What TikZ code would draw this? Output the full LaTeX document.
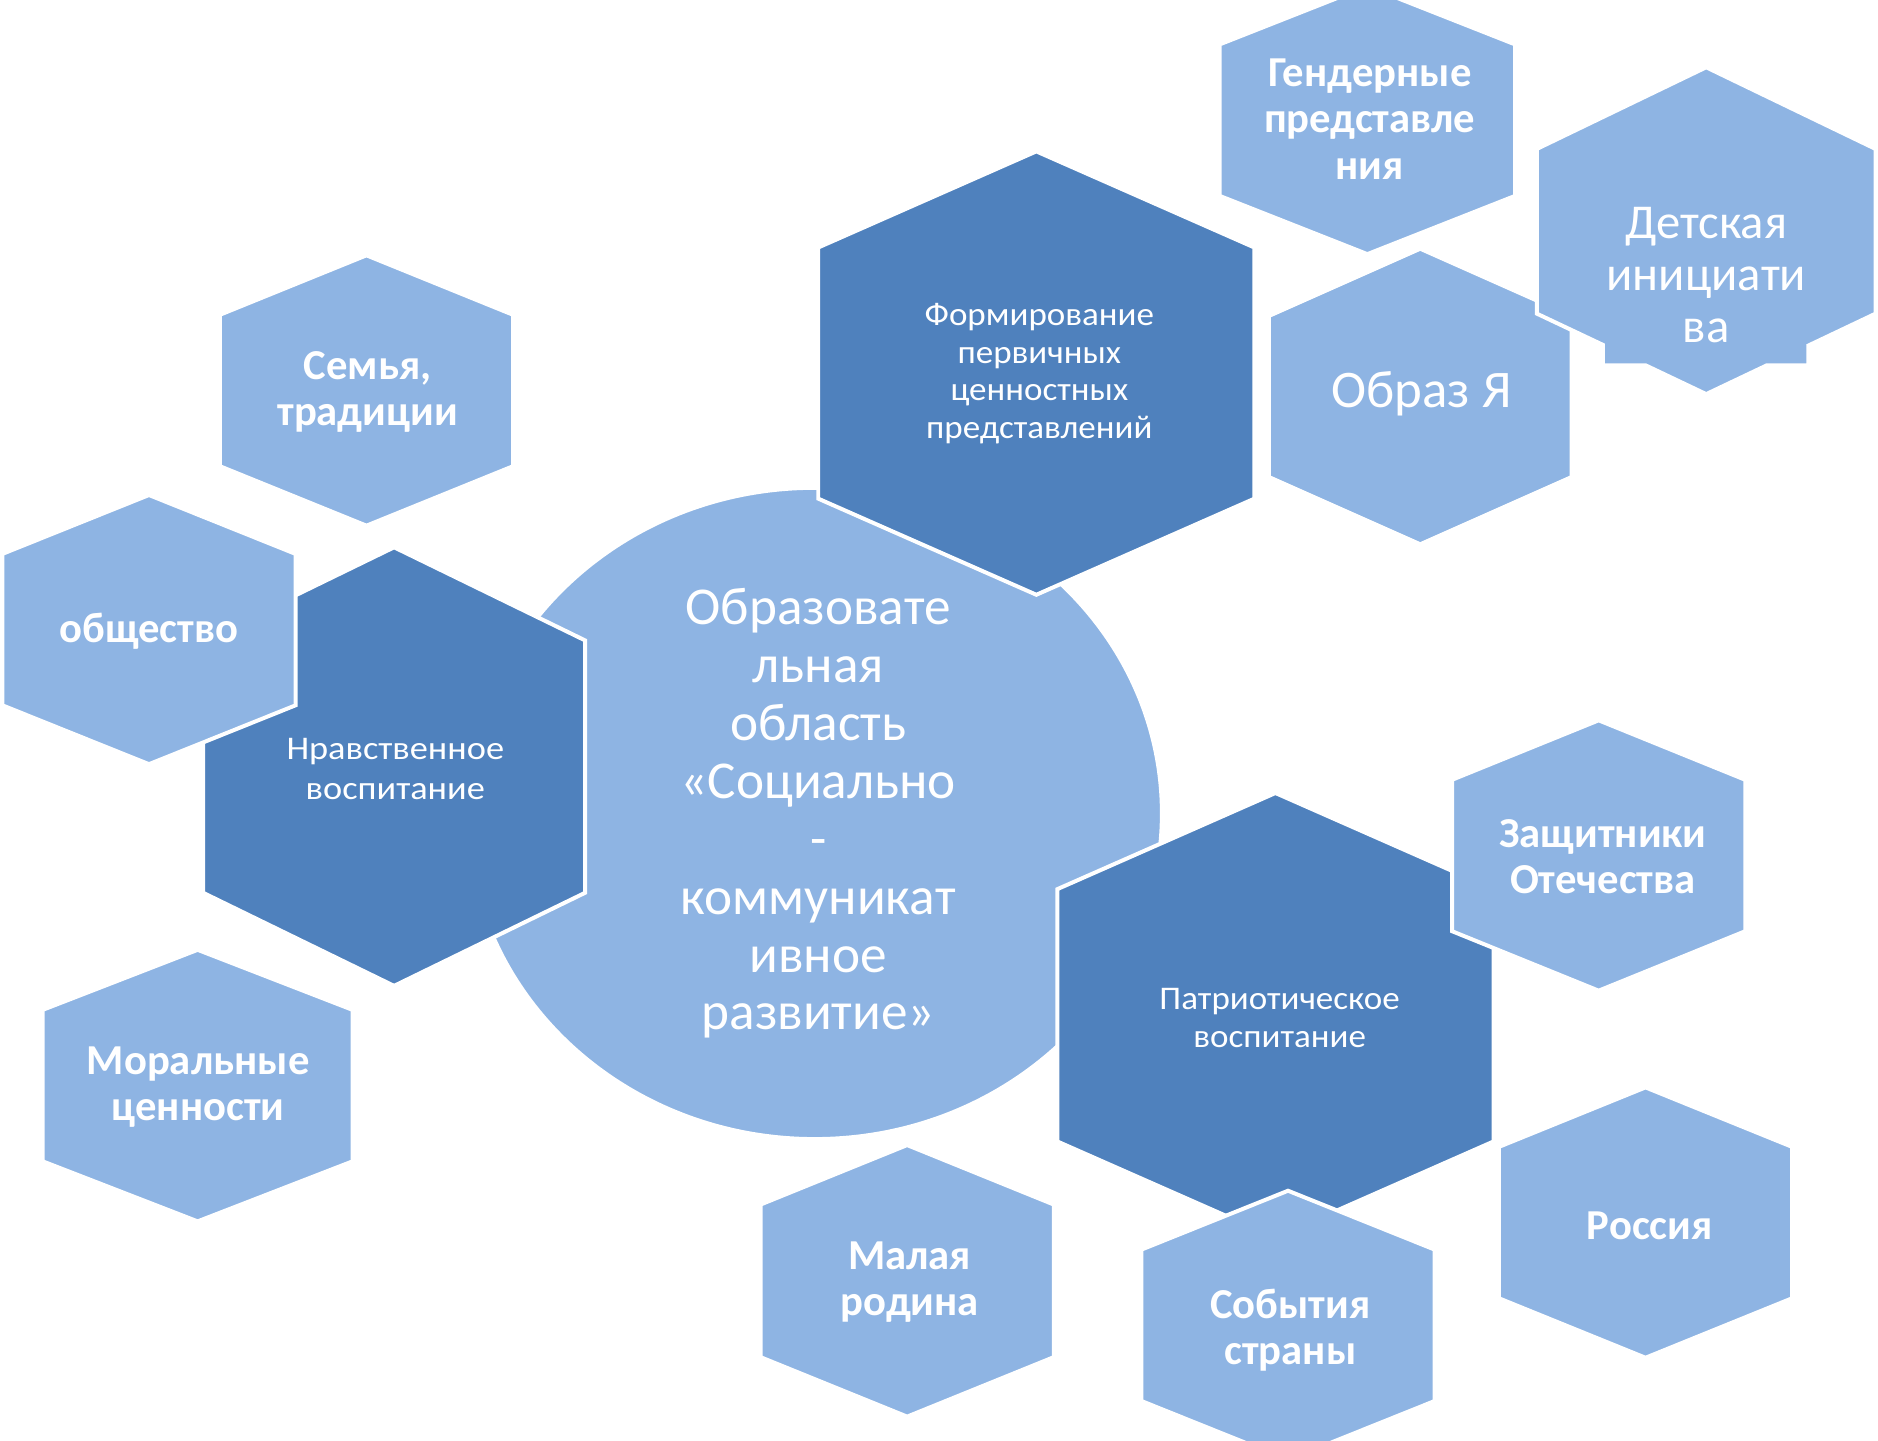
\documentclass[tikz,border=0pt]{standalone}
\usepackage{fontspec}
\setmainfont{Carlito}
\newfontfamily\darkfont[FakeStretch=1.06]{Carlito}
\newfontfamily\nravfont[FakeStretch=1.1]{Carlito}
\definecolor{lightb}{HTML}{8EB4E3}
\definecolor{darkb}{HTML}{4F81BD}
\newcommand{\hexa}[6]{\fill[#6,draw=white,line width=3.3pt,line join=miter] ({#1},{#2-#4-#5}) -- ({#1+#3},{#2-#4}) -- ({#1+#3},{#2+#4}) -- ({#1},{#2+#4+#5}) -- ({#1-#3},{#2+#4}) -- ({#1-#3},{#2-#4}) -- cycle;}
\tikzset{
  boldtxt/.style={text=white, align=center, font=\bfseries\fontsize{35.5}{38.5}\selectfont},
  darktxt/.style={text=white, align=center, font=\darkfont\fontsize{27.5}{31.5}\selectfont},
  nravtxt/.style={text=white, align=center, font=\nravfont\fontsize{27.5}{33}\selectfont},
  bigtxt/.style={text=white, align=center, font=\fontsize{40.5}{43}\selectfont},
  obraztxt/.style={text=white, align=center, font=\fontsize{44}{48}\selectfont},
  circtxt/.style={text=white, align=center, font=\fontsize{44.3}{48.2}\selectfont},
}
\begin{document}
\begin{tikzpicture}[x=1pt,y=-1pt]
\useasboundingbox (0,0) rectangle (1563,1198.5);
\clip (0,0) rectangle (1563,1198.5);
% central ellipse
\fill[lightb,draw=white,line width=3.3pt] (678,677) ellipse [x radius=289, y radius=271];
% left cluster
\hexa{328}{638}{159}{105}{77.5}{darkb}
\hexa{124}{524}{122}{63}{49}{lightb}
\hexa{305}{325}{122}{63}{49.5}{lightb}
\hexa{164.5}{903.5}{129}{63}{50}{lightb}
% top cluster
\hexa{862.5}{310.5}{181.5}{104.5}{80}{darkb}
\hexa{1138}{100}{123}{63}{48.5}{lightb}
\hexa{1182}{330}{126}{67}{56}{lightb}
\fill[lightb,draw=white,line width=3.3pt,line join=miter]
  (1420,56) -- (1561,124) -- (1561,261) -- (1505,287.6) -- (1505,304) -- (1470.5,304)
  -- (1420,328) -- (1369.5,304) -- (1334,304) -- (1334,287) -- (1279,261) -- (1279,124) -- cycle;
% bottom-right cluster
\hexa{1061.5}{845}{181.5}{105}{80}{darkb}
\hexa{1330.5}{712}{122}{63}{49.5}{lightb}
\hexa{1072}{1103}{122}{63}{49}{lightb}
\hexa{1369.5}{1017.5}{122}{63}{49.5}{lightb}
\hexa{755}{1066}{122}{63.5}{49.5}{lightb}
% texts
\node[circtxt] (center) at (681,677) {Образовате\\льная\\область\\«Социально\\-\\коммуникат\\ивное\\развитие»};
\node[nravtxt] (nrav) at (329,640) {Нравственное\\воспитание};
\node[darktxt] (form) at (865,311) {Формирование\\первичных\\ценностных\\представлений};
\node[darktxt] (patr) at (1065,847) {Патриотическое\\воспитание};
\node[boldtxt] (obsh) at (124,525) {общество};
\node[boldtxt] (semya) at (306,326) {Семья,\\традиции};
\node[boldtxt] (moral) at (165,905) {Моральные\\ценности};
\node[boldtxt] (gender) at (1140,99) {Гендерные\\представле\\ния};
\node[obraztxt] (obraz) at (1183,328) {Образ Я};
\node[bigtxt] (detsk) at (1420,229) {Детская\\инициати\\ва};
\node[boldtxt] (zash) at (1334,713) {Защитники\\Отечества};
\node[boldtxt] (sobyt) at (1074,1107) {События\\страны};
\node[boldtxt] (rossiya) at (1373,1020) {Россия};
\node[boldtxt] (malaya) at (757,1067) {Малая\\родина};
\end{tikzpicture}
\end{document}
